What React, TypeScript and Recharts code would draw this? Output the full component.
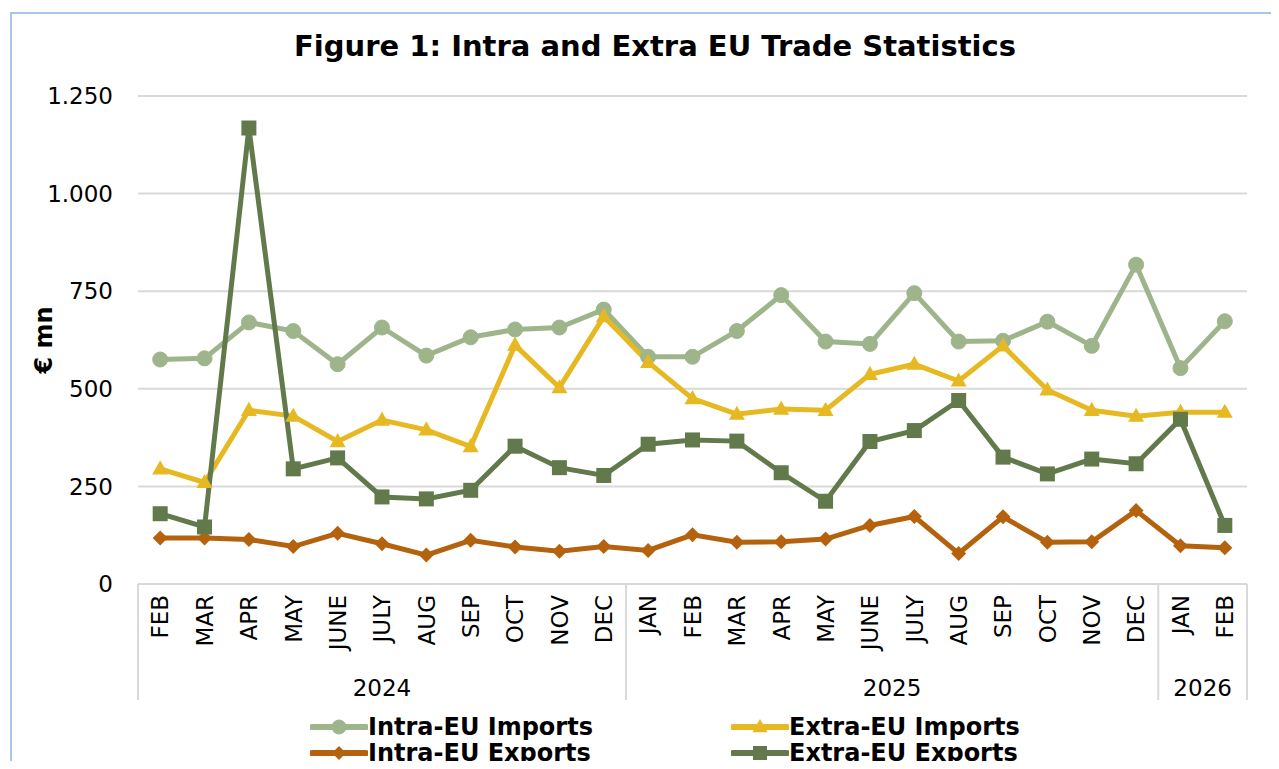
import React from 'react';
import { LineChart, Line, XAxis, YAxis, CartesianGrid, Legend } from 'recharts';

const months = ['FEB','MAR','APR','MAY','JUNE','JULY','AUG','SEP','OCT','NOV','DEC','JAN','FEB','MAR','APR','MAY','JUNE','JULY','AUG','SEP','OCT','NOV','DEC','JAN','FEB'];
const years = ['2024','2024','2024','2024','2024','2024','2024','2024','2024','2024','2024','2025','2025','2025','2025','2025','2025','2025','2025','2025','2025','2025','2025','2026','2026'];

const intraImports = [575,578,670,648,563,657,585,632,652,657,703,582,582,648,740,621,615,745,621,623,672,610,818,553,673];
const extraImports = [295,260,445,430,365,420,395,352,612,503,685,568,475,435,448,445,537,563,520,610,497,445,430,440,440];
const intraExports = [118,118,114,96,130,103,74,112,95,84,96,86,126,107,108,115,150,173,78,172,107,108,188,98,93];
const extraExports = [180,146,1168,295,323,223,218,240,353,298,278,358,369,366,285,212,365,393,470,325,282,320,308,422,150];

const yTicks = [0, 250, 500, 750, 1000, 1250];

const series = [
  { key: 'intraImports', name: 'Intra-EU Imports', color: '#9EB58C', shape: 'circle' },
  { key: 'extraImports', name: 'Extra-EU Imports', color: '#E6B923', shape: 'triangle' },
  { key: 'intraExports', name: 'Intra-EU Exports', color: '#B5620F', shape: 'diamond' },
  { key: 'extraExports', name: 'Extra-EU Exports', color: '#627A4B', shape: 'square' },
];

const data = months.map((m, i) => ({
  id: `${m}-${years[i]}-${i}`,
  month: m,
  year: years[i],
  intraImports: intraImports[i],
  extraImports: extraImports[i],
  intraExports: intraExports[i],
  extraExports: extraExports[i],
}));

const FONT = "'DejaVu Sans', Verdana, sans-serif";
const W = 1279;
const H = 769;
const M = { top: 96, right: 32, left: 0, bottom: 69 };
const YW = 138;
const PLOT_W = W - YW - M.right;
const HALF = PLOT_W / (2 * months.length);
const GRID = '#D9D9D9';

const fmt = (v: number) => String(v).replace(/\B(?=(\d{3})+(?!\d))/g, '.');

function Marker({ shape, cx, cy, color, size = 7.5 }: any) {
  if (cx == null || cy == null) return null;
  const s = size;
  if (shape === 'circle') return <circle cx={cx} cy={cy} r={s} fill={color} stroke={color} />;
  if (shape === 'square') return <rect x={cx - s} y={cy - s} width={2 * s} height={2 * s} fill={color} />;
  if (shape === 'diamond') return <polygon points={`${cx},${cy - s} ${cx + s},${cy} ${cx},${cy + s} ${cx - s},${cy}`} fill={color} />;
  return <polygon points={`${cx},${cy - s - 1} ${cx + s + 0.5},${cy + s * 0.75} ${cx - s - 0.5},${cy + s * 0.75}`} fill={color} />;
}

function MonthTick(props: any) {
  const { x, y, payload } = props;
  const i = props.index ?? payload.index ?? 0;
  const yr = years[i];
  const first = i === 0 || years[i - 1] !== yr;
  const last = i === months.length - 1;
  const count = years.filter((v) => v === yr).length;
  return (
    <g>
      <text
        transform={`translate(${x},${y + 11}) rotate(-90)`}
        textAnchor="end"
        dy="0.36em"
        fontSize={23}
        fontFamily={FONT}
        fill="#000"
      >
        {months[i]}
      </text>
      {first && (
        <line x1={x - HALF} x2={x - HALF} y1={y} y2={y + 116} stroke={GRID} strokeWidth={2} />
      )}
      {last && (
        <line x1={x + HALF} x2={x + HALF} y1={y} y2={y + 116} stroke={GRID} strokeWidth={2} />
      )}
      {first && (
        <text
          x={x + (count - 1) * HALF}
          y={y + 104}
          textAnchor="middle"
          dy="0.36em"
          fontSize={23}
          fontFamily={FONT}
          fill="#000"
        >
          {yr}
        </text>
      )}
    </g>
  );
}

function YLabel() {
  return (
    <text
      x={43}
      y={340}
      transform="rotate(-90, 43, 340)"
      textAnchor="middle"
      dy="0.36em"
      fontSize={24}
      fontWeight="bold"
      fontFamily={FONT}
      fill="#000"
    >
      € mn
    </text>
  );
}

function LegendContent() {
  return (
    <div
      style={{
        display: 'grid',
        gridTemplateColumns: '421px 421px',
        rowGap: 0,
        fontFamily: FONT,
        fontWeight: 'bold',
        fontSize: 24,
        color: '#000',
      }}
    >
      {series.map((s) => (
        <div key={s.key} style={{ display: 'flex', alignItems: 'center', height: 26, whiteSpace: 'nowrap' }}>
          <svg width={58} height={26} style={{ display: 'block' }}>
            <line x1={2} x2={56} y1={13} y2={13} stroke={s.color} strokeWidth={6} strokeLinecap="round" />
            <Marker shape={s.shape} cx={29} cy={13} color={s.color} size={7} />
          </svg>
          <span style={{ lineHeight: '26px' }}>{s.name}</span>
        </div>
      ))}
    </div>
  );
}

export default function App() {
  return (
    <div
      style={{
        position: 'relative',
        width: W,
        height: H,
        margin: -8,
        overflow: 'hidden',
        background: '#fff',
        fontFamily: FONT,
      }}
    >
      <div
        style={{
          position: 'absolute',
          left: 10,
          top: 12,
          width: 1400,
          height: 900,
          border: '2px solid #A8C5EA',
          boxSizing: 'border-box',
        }}
      />
      <div
        style={{
          position: 'absolute',
          left: 0,
          top: 32,
          width: 1310,
          textAlign: 'center',
          fontSize: 29,
          lineHeight: '29px',
          fontWeight: 'bold',
          fontFamily: FONT,
          color: '#000',
          whiteSpace: 'nowrap',
        }}
      >
        Figure 1: Intra and Extra EU Trade Statistics
      </div>
      <div style={{ position: 'absolute', left: 0, top: 0 }}>
        <LineChart width={W} height={H} data={data} margin={M}>
          <CartesianGrid vertical={false} stroke={GRID} strokeWidth={2} />
          <XAxis
            dataKey="id"
            scale="point"
            padding={{ left: HALF, right: HALF }}
            interval={0}
            height={116}
            tickLine={false}
            tickSize={0}
            tickMargin={0}
            axisLine={{ stroke: GRID, strokeWidth: 2 }}
            tick={<MonthTick />}
          />
          <YAxis
            width={YW}
            domain={[0, 1250]}
            ticks={yTicks}
            interval={0}
            tickLine={false}
            tickSize={0}
            tickMargin={25}
            axisLine={false}
            tickFormatter={fmt}
            tick={{ fontSize: 23, fill: '#000', fontFamily: FONT }}
            label={<YLabel />}
          />
          {series.map((s) => (
            <Line
              key={s.key}
              dataKey={s.key}
              name={s.name}
              stroke={s.color}
              strokeWidth={5}
              isAnimationActive={false}
              dot={(p: any) => (
                <Marker key={`${s.key}-${p.index}`} shape={s.shape} cx={p.cx} cy={p.cy} color={s.color} />
              )}
              activeDot={false}
            />
          ))}
          <Legend
            verticalAlign="middle"
            align="center"
            layout="horizontal"
            wrapperStyle={{ top: 714, left: 310, width: 900, height: 52 }}
            content={<LegendContent />}
          />
        </LineChart>
      </div>
    </div>
  );
}
